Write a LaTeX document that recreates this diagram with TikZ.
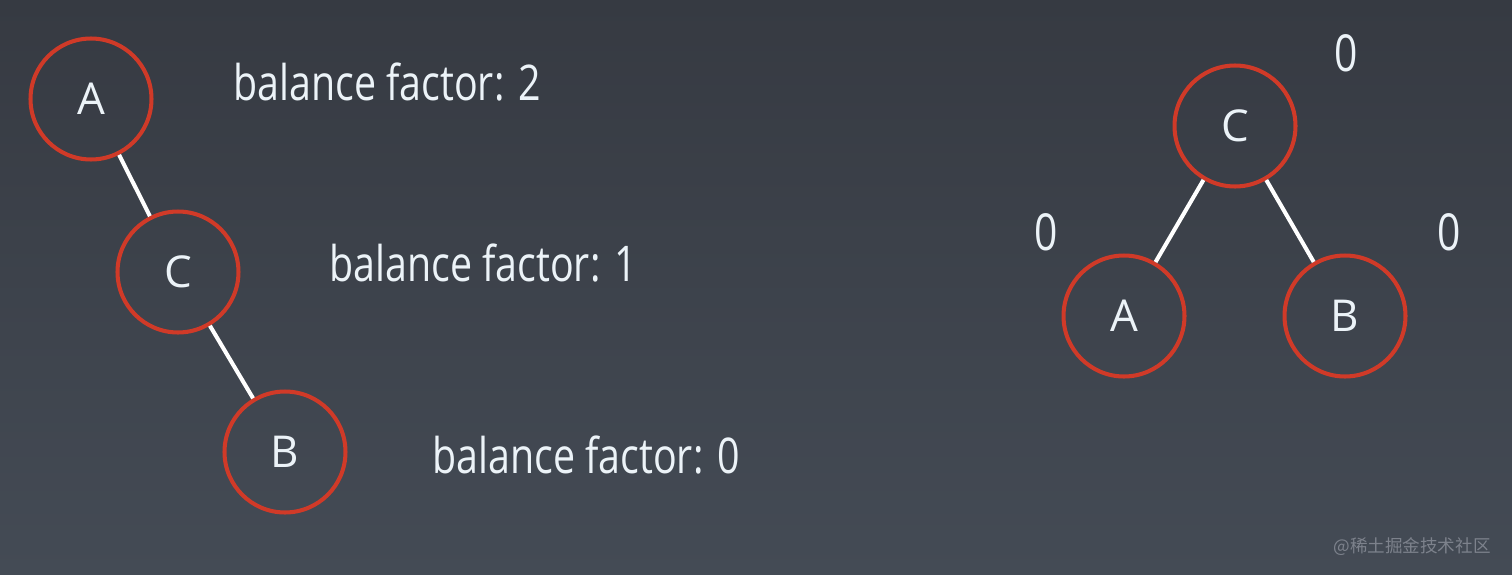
\documentclass[tikz,border=0pt]{standalone}
\usepackage{fontspec}
\setmainfont[FakeStretch=0.8]{Open Sans}
\newfontfamily\nodefont{Open Sans}
\newfontfamily\cjkfont{Noto Sans CJK SC}
\definecolor{bgtop}{RGB}{54,58,66}
\definecolor{bgbot}{RGB}{68,75,85}
\definecolor{ringred}{RGB}{208,58,40}
\definecolor{txtwhite}{RGB}{236,243,248}
\definecolor{wmgray}{RGB}{125,130,140}
\tikzset{
  tnode/.style={circle, draw=ringred, line width=2.3pt, minimum size=2.42cm, inner sep=0pt, text=txtwhite, font=\nodefont\fontsize{25}{27}\selectfont},
  tedge/.style={draw=white, line width=2.3pt},
  bflabel/.style={anchor=base west, inner sep=0pt, text=txtwhite, font=\fontsize{28}{30}\selectfont},
  zlabel/.style={inner sep=0pt, text=txtwhite, font=\fontsize{29}{31}\selectfont},
}
\begin{document}
\begin{tikzpicture}[x=0.02cm, y=-0.02cm]
\shade[top color=bgtop, bottom color=bgbot] (0,0) rectangle (1512,575);
\useasboundingbox (0,0) rectangle (1512,575);
% unbalanced tree
\node[tnode] (la) at (91,99){A};
\node[tnode] (lc) at (178,272){C};
\node[tnode] (lb) at (285,452){B};
\draw[tedge](la) -- (lc);
\draw[tedge](lc) -- (lb);
\node[bflabel] (bfa) at (233,100){balance factor: 2};
\node[bflabel] (bfc) at (329,281){balance factor: 1};
\node[bflabel] (bfb) at (432,473){balance factor: 0};
% after rotation
\node[tnode] (rc) at (1235,126){C};
\node[tnode] (ra) at (1124,316){A};
\node[tnode] (rb) at (1345,316){B};
\draw[tedge](rc) -- (ra);
\draw[tedge](rc) -- (rb);
\node[zlabel] (zc) at (1346,53){0};
\node[zlabel] (za) at (1046,232){0};
\node[zlabel] (zb) at (1449,232){0};

\node[text=wmgray, font=\cjkfont\fontsize{10}{12}\selectfont] (wm) at (1412,547){@稀土掘金技术社区};
\end{tikzpicture}
\end{document}
